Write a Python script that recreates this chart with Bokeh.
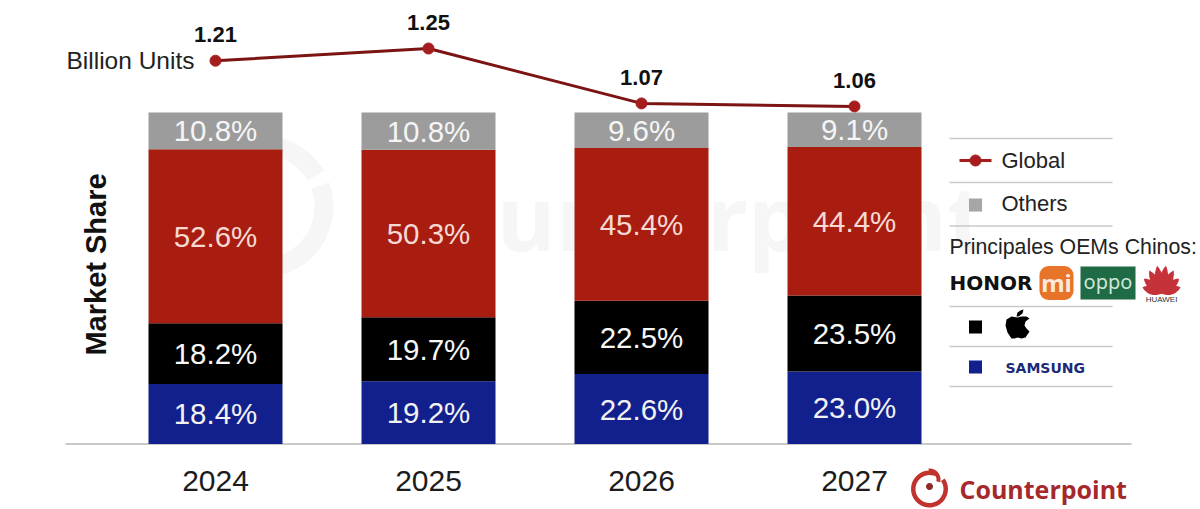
import numpy as np
from bokeh.embed import file_html
from bokeh.resources import INLINE
from bokeh.plotting import figure
from bokeh.models import Range1d, FixedTicker
from bokeh.core.properties import value

# ---------- data ----------
years = [2024, 2025, 2026, 2027]
global_units = [1.21, 1.25, 1.07, 1.06]
# printed percentages
samsung_labels = [18.4, 19.2, 22.6, 23.0]
apple_labels = [18.2, 19.7, 22.5, 23.5]
chinese_labels = [52.6, 50.3, 45.4, 44.4]
others_labels = [10.8, 10.8, 9.6, 9.1]
# segment heights as drawn in the picture (they differ a little from the printed figures)
samsung_drawn = [18.1, 18.9, 21.1, 21.9]
apple_drawn = [18.3, 19.3, 22.1, 22.9]
chinese_drawn = [52.5, 50.5, 46.1, 44.8]
others_drawn = [11.1, 11.3, 10.7, 10.4]

FONT = value("Liberation Sans")
W, H = 1200, 509
BASE = 443.5          # page y of the baseline
UNIT = 3.316          # px per percent
SP = 213.0            # px per year
X0 = 215.0            # page x of 2024
LU = 305.0            # px per billion

p = figure(width=W, height=H, output_backend="svg", toolbar_location=None,
           min_border_left=0, min_border_right=0, min_border_top=0, min_border_bottom=0,
           x_range=Range1d(2024 + (0 - X0) / SP, 2024 + (W - X0) / SP),
           y_range=Range1d((BASE - H) / UNIT, BASE / UNIT))
p.outline_line_color = None
p.grid.visible = False
p.yaxis.visible = False
p.background_fill_color = "white"

p.extra_y_ranges["units"] = Range1d(1.25 - (H - 48) / LU, 1.25 + 48 / LU)
p.extra_x_ranges["px"] = Range1d(0, W)
p.extra_y_ranges["px"] = Range1d(H, 0)

# year axis: sits on the frame's lower edge, its labels are pulled up under the baseline
ax = p.xaxis[0]
ax.ticker = FixedTicker(ticks=years)
ax.major_label_overrides = {y: str(y) for y in years}
ax.major_tick_line_color = None
ax.minor_tick_line_color = None
ax.axis_line_color = None
ax.major_label_text_font = "Liberation Sans"
ax.major_label_text_font_size = "30px"
ax.major_label_text_color = "#1c1c1c"
ax.major_label_standoff = -45


def ptext(x, y, t, size, color="#222222", style="normal", font="Liberation Sans", align="left", angle=0.0, level="glyph"):
    p.text([x], [y], text=[t], x_range_name="px", y_range_name="px", angle=angle,
           text_font=value(font), text_font_size=size, text_color=color, text_font_style=style,
           text_align=align, text_baseline="middle", level=level)


def arc_poly(cx, cy, r1, r2, a0, a1, n=40):
    t = np.radians(np.linspace(a0, a1, n))
    xs = np.r_[cx + r2 * np.cos(t), cx + r1 * np.cos(t[::-1])]
    ys = np.r_[cy - r2 * np.sin(t), cy - r1 * np.sin(t[::-1])]
    return xs, ys


def ppatch(xs, ys, color, level="glyph"):
    p.patch(list(xs), list(ys), x_range_name="px", y_range_name="px", fill_color=color, line_color=None, level=level)


# ---------- watermark ----------
WM = "#f6f6f6"
for a0, a1 in [(-285, 20), (30, 75)]:
    ppatch(*arc_poly(262, 206, 52, 71, a0, a1), WM, level="underlay")
ptext(383, 215, "Counterpoint", "90px", WM, "bold", "Open Sans", level="underlay")

# ---------- baseline ----------
p.line([65, 1131], [BASE, BASE], x_range_name="px", y_range_name="px", line_color="#c9c9c9", line_width=2)

# ---------- stacked bars ----------
stack = [
    (samsung_drawn, samsung_labels, "#11208c", "#f2f2f2"),
    (apple_drawn, apple_labels, "#000000", "#f7f7f7"),
    (chinese_drawn, chinese_labels, "#a81d10", "#f6d9d4"),
    (others_drawn, others_labels, "#9c9c9c", "#f5f5f5"),
]
bottom = np.zeros(4)
for drawn, labels, color, tcolor in stack:
    top = bottom + np.array(drawn)
    p.vbar(x=years, bottom=bottom, top=top, width=134 / SP, fill_color=color, line_color=None)
    p.text(x=years, y=(bottom + top) / 2, text=[f"{v:.1f}%" for v in labels],
           text_font=FONT, text_font_size="29.5px", text_color=tcolor,
           text_align="center", text_baseline="middle")
    bottom = top

# ---------- units line ----------
p.line(years, global_units, y_range_name="units", line_color="#7c1414", line_width=3)
p.scatter(years, global_units, y_range_name="units", size=11, marker="circle",
          fill_color="#a51d1d", line_color="#a51d1d")
p.text(years, global_units, text=[f"{v:.2f}" for v in global_units], y_range_name="units",
       text_font=FONT, text_font_size="22px", text_font_style="bold", text_color="#111111",
       text_align="center", text_baseline="middle", y_offset=-26)

# ---------- side texts ----------
ptext(66, 60, "Billion Units", "24.5px")
ptext(95, 264, "Market Share", "29px", "#111111", "bold", align="center", angle=np.pi / 2)

# ---------- legend ----------
for ly in [138, 182, 225.5, 306, 346, 386]:
    p.line([949, 1112], [ly, ly], x_range_name="px", y_range_name="px", line_color="#c9c9c9", line_width=1.5)
p.line([959, 991], [160, 160], x_range_name="px", y_range_name="px", line_color="#a51d1d", line_width=3)
p.scatter([975], [160], x_range_name="px", y_range_name="px", marker="circle", size=11,
          fill_color="#a51d1d", line_color="#a51d1d")
ptext(1001, 159.5, "Global", "22px")
ptext(1001, 203, "Others", "22px")
ptext(949, 246.5, "Principales OEMs Chinos:", "21.3px")
for sy, c in [(204.5, "#a6a6a6"), (326.5, "#000000"), (366.5, "#11208c")]:
    p.scatter([975], [sy], x_range_name="px", y_range_name="px", marker="square", size=13,
              fill_color=c, line_color=None)
ptext(949, 282, "HONOR", "20px", "#111111", "bold", "DejaVu Sans")
ptext(1005, 367, "SAMSUNG", "14px", "#1c2a78", "bold", "DejaVu Sans")

# Mi tile
p.rect([1056], [282.5], width=[34], height=[34], x_range_name="px", y_range_name="px",
       fill_color="#e8742a", line_color=None, border_radius=9)
ptext(1056, 282, "mi", "24px", "#fbe9dc", "bold", "Noto Sans", align="center")
# OPPO tile
p.rect([1107.5], [282.5], width=[55], height=[33], x_range_name="px", y_range_name="px",
       fill_color="#1f6b45", line_color=None)
ptext(1107.5, 281, "oppo", "20px", "#cfe6d8", "normal", "Noto Sans", align="center")
# Huawei fan
for ang, ln in [(-72, 20), (-50, 23), (-28, 26), (-9, 28), (9, 28), (28, 26), (50, 23), (72, 20)]:
    t = np.radians(ang)
    u = np.linspace(0, 1, 14)
    along = u * ln
    side = np.sin(u * np.pi) ** 0.8 * 4.2
    xl = along * np.sin(t) - side * np.cos(t)
    yl = -along * np.cos(t) - side * np.sin(t)
    xr = along * np.sin(t) + side * np.cos(t)
    yr = -along * np.cos(t) + side * np.sin(t)
    ppatch(1161 + np.r_[xl, xr[::-1]], 293 + np.r_[yl, yr[::-1]], "#c5323a")
ptext(1161, 298.5, "HUAWEI", "8px", "#333333", "normal", "Liberation Sans", align="center")
# Apple mark
ax_pts = [1017, 1011, 1006, 1005, 1007, 1011, 1014, 1017, 1021, 1025, 1029, 1026, 1024, 1025, 1029, 1026, 1021, 1017]
ay_pts = [317, 316, 319, 325, 332, 338, 338, 337, 338, 337, 331, 328, 325, 321, 318, 316, 316, 317]
ppatch(ax_pts, ay_pts, "#000000")
ppatch([1016, 1017, 1020, 1023, 1022, 1018], [316, 312, 310, 309, 313, 316], "#000000")

# ---------- footer logo ----------
LOGO = "#c1332e"
ppatch(*arc_poly(929, 488.5, 14, 18.5, -295, 35), LOGO)
ppatch(*arc_poly(929, 479, 7, 11, -15, 95), LOGO)
ppatch(*arc_poly(929, 486, 0, 3.5, 0, 360), "#8e2a2a")
ptext(959, 488, "Counterpoint", "25px", "#a5282c", "bold", "Open Sans")

open("out.html", "w").write(file_html(p, INLINE))
